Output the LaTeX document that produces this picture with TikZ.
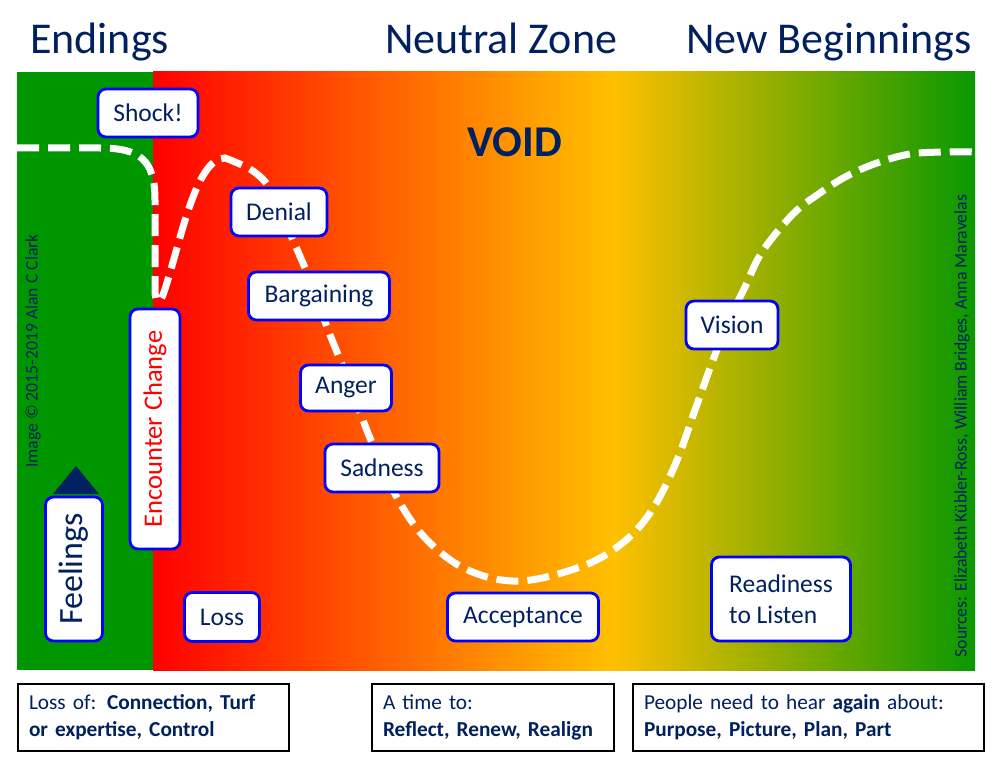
\documentclass[tikz,border=0pt]{standalone}
\usepackage{fontspec}
\setmainfont{Carlito}
\usepackage{tikz}

\definecolor{navy}{HTML}{002060}
\definecolor{boxblue}{HTML}{0000FF}
\definecolor{leafgreen}{RGB}{0,150,0}
\definecolor{endgreen}{RGB}{10,152,0}
\definecolor{hotred}{RGB}{255,0,0}
\definecolor{hotorange}{RGB}{255,144,0}
\definecolor{gold}{RGB}{255,192,0}
\pgfdeclarehorizontalshading{voidshade}{100bp}{color(0bp)=(hotred); color(25bp)=(hotred);
  color(46bp)=(hotorange); color(53bp)=(gold); color(75bp)=(endgreen); color(100bp)=(endgreen)}

\tikzset{
  stage/.style={draw=boxblue, line width=2.8pt, fill=white, rounded corners=8pt, text=navy,
    font=\fontsize{25.5}{31}\selectfont, minimum height=48pt, inner xsep=8pt},
  note/.style={draw=black, line width=2pt, fill=white, text=navy, anchor=west, align=left,
    font=\fontsize{21.3}{27}\selectfont, minimum height=67pt, inner xsep=11pt},
  heading/.style={text=navy, font=\fontsize{44}{48}\selectfont, inner sep=0pt},
  credit/.style={text=navy, font=\fontsize{17.7}{20}\selectfont, rotate=90, inner sep=0pt},
  trail/.style={white, line width=7pt, dash pattern=on 22pt off 9pt}
}

\begin{document}
\begin{tikzpicture}[x=1pt,y=-1pt]
\useasboundingbox (0,0) rectangle (1000,759);
% zones
\fill[leafgreen] (17,72) rectangle (153,670);
\shade[shading=voidshade] (153,72) rectangle (975,670);
% the road through the change
\draw[trail] (17,148) -- (100,148) .. controls (140,148) and (155,160) .. (155,200) -- (155,290)
  .. controls (155,304) and (160,305) .. (164,292) .. controls (180,245) and (195,158) .. (225,158)
  -- plot[smooth, tension=0.6] coordinates {(225,158) (253,171) (272,192) (293,240) (312,285)
  (327,327) (343,367) (360,412) (373,445) (400,503) (430,543) (470,571) (520,581) (580,567)
  (620,545) (650,513) (675,465) (695,410) (713,360) (730,318) (745,287) (762,252) (793,214)
  (820,193) (847,176) (877,163) (910,154) (945,152) (975,152)};
% headings
\node[heading, anchor=base west] (endings) at (30,54) {Endings};
\node[heading, anchor=base west] (neutral) at (385,54) {Neutral Zone};
\node[heading, anchor=base east] (beginnings) at (972,54) {New Beginnings};
\node[heading, anchor=base, font=\fontsize{44}{48}\selectfont\bfseries] (void) at (515,157) {VOID};
% stages
\node[stage, minimum width=100pt] (shock) at (148,113) {Shock!};
\node[stage, minimum width=96pt] (denial) at (279,212) {Denial};
\node[stage, minimum width=141pt] (bargaining) at (319,296) {Bargaining};
\node[stage, minimum width=91pt, minimum height=46pt] (anger) at (346,388) {Anger};
\node[stage, minimum width=114pt] (sadness) at (382,468) {Sadness};
\node[stage, minimum width=151pt] (acceptance) at (523,617) {Acceptance};
\node[stage, minimum width=92pt] (vision) at (732,325) {Vision};
\node[stage, minimum width=139pt, minimum height=84pt, align=left] (readiness) at (781,599) {Readiness\\to Listen};
\node[stage, minimum width=75pt, minimum height=49pt] (loss) at (222,617) {Loss};
\node[stage, rotate=90, minimum width=240pt, minimum height=50pt, text=hotred,
  font=\fontsize{26.5}{30}\selectfont] (encounter) at (155,429) {Encounter Change};
\node[stage, rotate=90, minimum width=144pt, minimum height=57pt, font=\fontsize{34}{38}\selectfont] (feelings) at (74,569) {Feelings};
\fill[navy] (53,494) -- (76,466) -- (99,494) -- cycle;
% credits
\node[credit] (copyright) at (33,351) {Image © 2015-2019 Alan C Clark};
\node[credit] (sources) at (962,426) {Sources: Elizabeth Kübler-Ross, William Bridges, Anna Maravelas};
% notes
\node[note, text width=249pt] (lossof) at (17,717.5) {Loss of: \textbf{Connection, Turf}\\\textbf{or expertise, Control}};
\node[note, text width=220pt] (timeto) at (371,717.5) {A time to:\\\textbf{Reflect, Renew, Realign}};
\node[note, text width=329pt] (hear) at (632,717.5) {People need to hear \textbf{again} about:\\\textbf{Purpose, Picture, Plan, Part}};
\end{tikzpicture}
\end{document}
